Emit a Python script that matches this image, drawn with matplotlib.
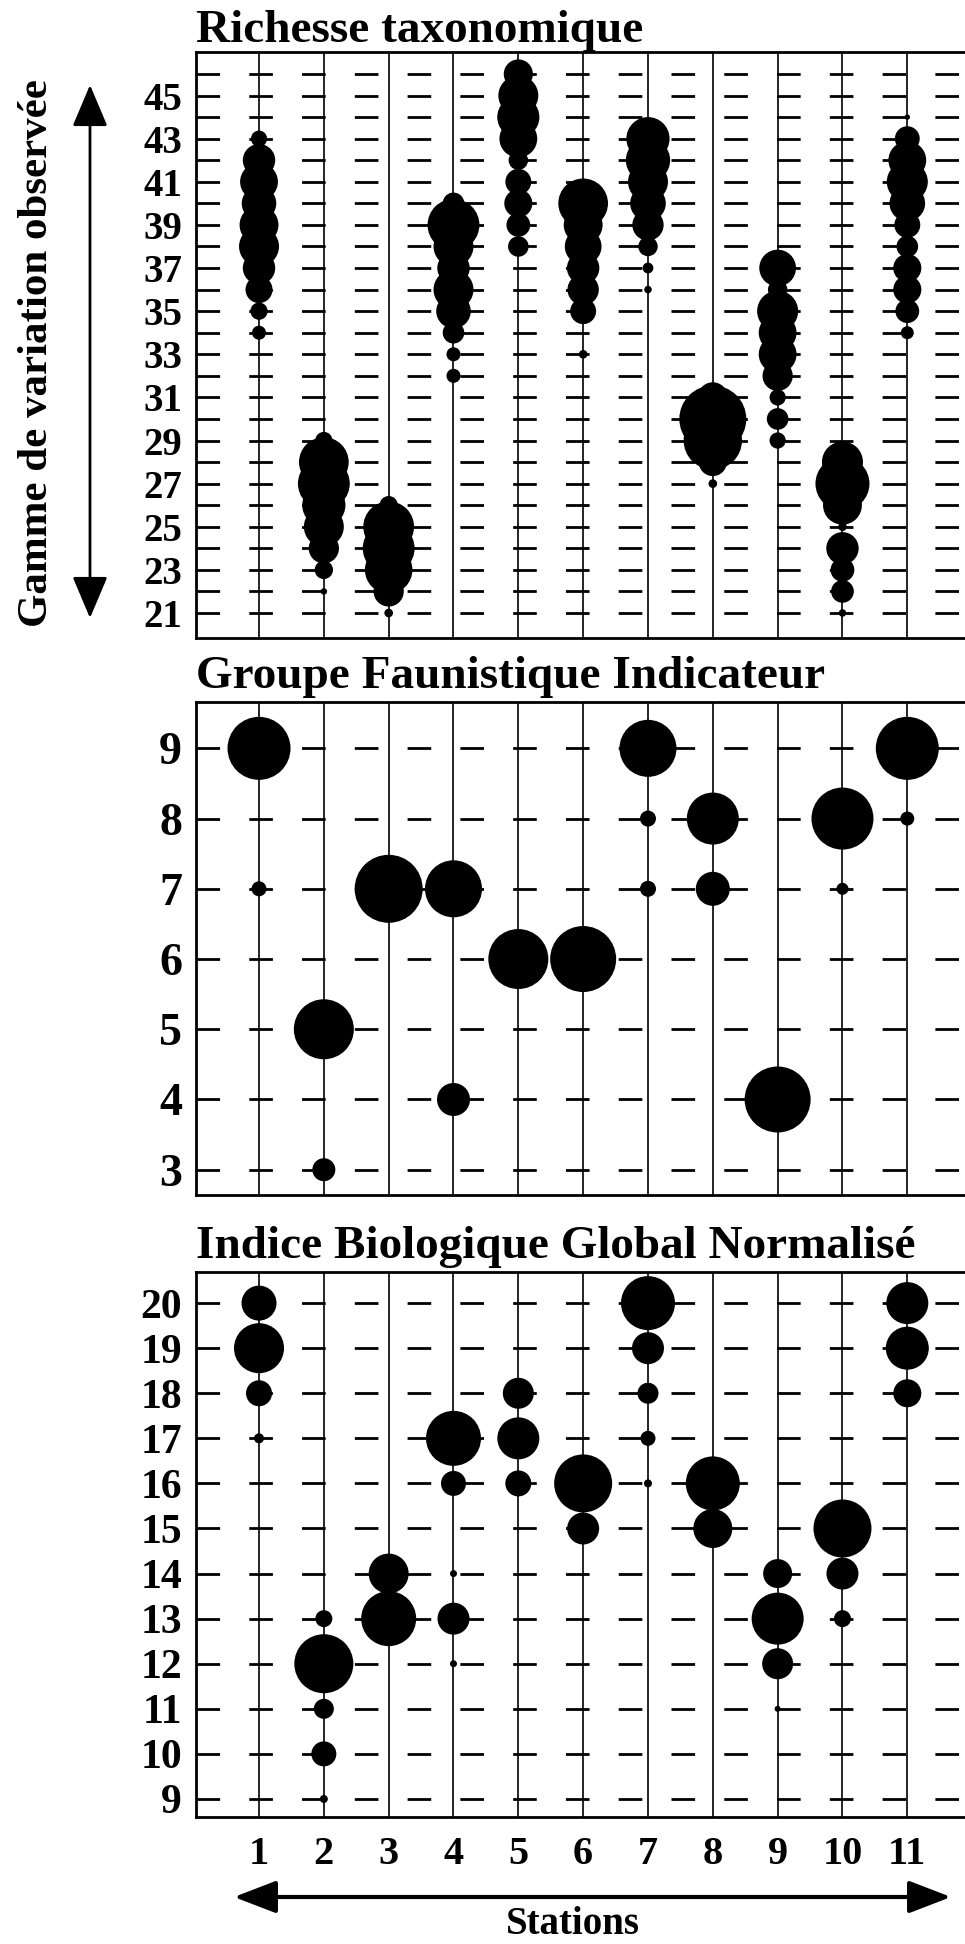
import numpy as np
import matplotlib
matplotlib.use('Agg')
import matplotlib.pyplot as plt

plt.rcParams['font.family'] = ['Liberation Serif', 'DejaVu Serif']
plt.rcParams['font.weight'] = 'bold'
plt.rcParams['lines.scale_dashes'] = False

stations = list(range(1, 12))

# Richesse taxonomique : station, valeur, taille de bulle (diametre relatif)
rt_station = [1]*10 + [2]*8 + [3]*6 + [4]*9 + [5]*9 + [6]*7 + [7]*8 + [8]*5 + [9]*9 + [10]*8 + [11]*11
rt_value = [43, 42, 41, 40, 39, 38, 37, 36, 35, 34,
            29, 28, 27, 26, 25, 24, 23, 22,
            26, 25, 24, 23, 22, 21,
            40, 39, 38, 37, 36, 35, 34, 33, 32,
            46, 45, 44, 43, 42, 41, 40, 39, 38,
            40, 39, 38, 37, 36, 35, 33,
            43, 42, 41, 40, 39, 38, 37, 36,
            31, 30, 29, 28, 27,
            37, 36, 35, 34, 33, 32, 31, 30, 29,
            28, 27, 26, 25, 24, 23, 22, 21,
            44, 43, 42, 41, 40, 39, 38, 37, 36, 35, 34]
rt_size = [15, 30, 35, 32, 36, 37, 30, 25, 16, 13,
           16, 46, 48, 40, 37, 28, 17, 6,
           17, 47, 48, 44, 28, 8,
           20, 48, 37, 30, 37, 32, 20, 13, 13,
           27, 37, 39, 35, 18, 24, 26, 22, 19,
           46, 36, 34, 30, 29, 24, 8,
           40, 41, 37, 33, 29, 18, 10, 7,
           28, 62, 54, 26, 8,
           34, 18, 38, 35, 35, 28, 15, 20, 15,
           38, 50, 36, 8, 30, 22, 21, 7,
           5, 23, 35, 38, 33, 24, 20, 26, 26, 22, 12]

# Groupe Faunistique Indicateur
gfi_station = [1, 1, 2, 2, 3, 4, 4, 5, 6, 7, 7, 7, 8, 8, 9, 10, 10, 11, 11]
gfi_value = [9, 7, 5, 3, 7, 7, 4, 6, 6, 9, 8, 7, 8, 7, 4, 8, 7, 9, 8]
gfi_size = [63, 15, 60, 23, 68, 57, 33, 60, 66, 57, 16, 16, 52, 34, 66, 62, 12, 63, 14]

# Indice Biologique Global Normalise
ibgn_station = [1]*4 + [2]*5 + [3]*2 + [4]*5 + [5]*3 + [6]*2 + [7]*5 + [8]*2 + [9]*4 + [10]*3 + [11]*3
ibgn_value = [20, 19, 18, 17,
              13, 12, 11, 10, 9,
              14, 13,
              17, 16, 14, 13, 12,
              18, 17, 16,
              16, 15,
              20, 19, 18, 17, 16,
              16, 15,
              14, 13, 12, 11,
              15, 14, 13,
              20, 19, 18]
ibgn_size = [35, 50, 26, 10,
             17, 59, 20, 25, 8,
             40, 55,
             55, 25, 7, 32, 7,
             31, 42, 26,
             58, 32,
             54, 32, 21, 15, 8,
             54, 39,
             29, 52, 31, 6,
             58, 32, 17,
             42, 43, 28]

W, H = 965, 1944
fig = plt.figure(figsize=(W/100, H/100), dpi=100)


def make_panel(top, bottom, ylim, rows, yticks, title, title_pad, labelsize):
    left, right = 196, 1000
    ax = fig.add_axes([left/W, 1 - bottom/H, (right-left)/W, (bottom-top)/H])
    ax.set_xlim(0.028, 12.43)
    ax.set_ylim(*ylim)
    for y in rows:
        ax.axhline(y, color='k', lw=2.0, ls=(0, (17, 21)), zorder=1)
    for s in stations:
        ax.axvline(s, color='k', lw=1.2, zorder=2)
    ax.set_yticks(yticks)
    ax.set_yticklabels([str(v) for v in yticks])
    ax.tick_params(axis='y', length=0, pad=10, labelsize=labelsize)
    ax.set_xticks(stations)
    ax.tick_params(axis='x', length=0, labelbottom=False)
    for sp in ax.spines.values():
        sp.set_linewidth(2)
    ax.set_title(title, loc='left', fontsize=34, fontweight='bold', pad=title_pad)
    return ax


def bubbles(ax, st, val, size, k=1.0):
    d = np.array(size) * 0.72 * k
    ax.scatter(st, val, s=d**2, color='k', edgecolors='none', zorder=3)


ax1 = make_panel(52, 638, (19.84, 47.02), range(21, 47), range(21, 46, 2),
                 'Richesse taxonomique', 6.5, 28)
bubbles(ax1, rt_station, rt_value, rt_size, 1.08)

ax2 = make_panel(702, 1195, (2.64, 9.66), range(3, 10), range(3, 10),
                 'Groupe Faunistique Indicateur', 10, 33)
bubbles(ax2, gfi_station, gfi_value, gfi_size)

ax3 = make_panel(1272, 1817, (8.6, 20.69), range(9, 21), range(9, 21),
                 'Indice Biologique Global Normalisé', 10, 30)
bubbles(ax3, ibgn_station, ibgn_value, ibgn_size)
ax3.set_xticklabels([str(s) for s in stations])
ax3.tick_params(axis='x', labelbottom=True, pad=14, labelsize=29)

# fleches
ax1.annotate('', xy=(90, H-85), xytext=(90, H-618), xycoords='figure pixels',
             textcoords='figure pixels',
             arrowprops=dict(arrowstyle='<|-|>,head_length=1.3,head_width=0.55',
                             mutation_scale=20, lw=2, color='k', shrinkA=0, shrinkB=0))
fig.text(37/W, 1 - 353/H, 'Gamme de variation observée', rotation=90,
         ha='center', va='center', fontsize=31, fontweight='bold')

ax3.annotate('', xy=(951, H-1897), xytext=(234, H-1897), xycoords='figure pixels',
             textcoords='figure pixels',
             arrowprops=dict(arrowstyle='<|-|>,head_length=1.3,head_width=0.5',
                             mutation_scale=20, lw=3, color='k', shrinkA=0, shrinkB=0))
fig.text(573/W, 1 - 1924/H, 'Stations', ha='center', va='center',
         fontsize=28, fontweight='bold')

fig.savefig('out.png', dpi=100)
